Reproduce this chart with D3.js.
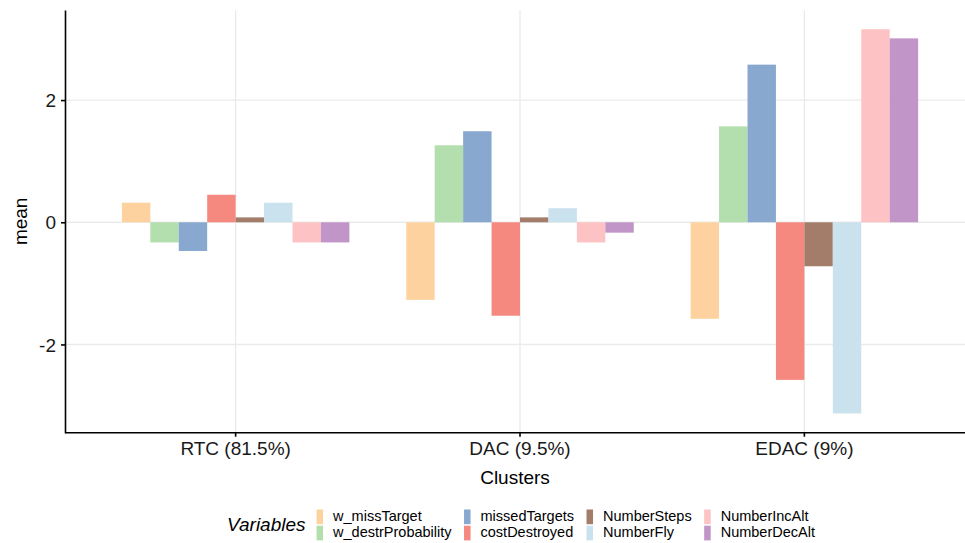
<!DOCTYPE html>
<html>
<head>
<meta charset="utf-8">
<script src="https://cdn.jsdelivr.net/npm/d3@7"></script>
<style>
  body { margin: 0; background: #fff; }
  text { font-family: "Liberation Sans", Arial, Helvetica, sans-serif; }
</style>
</head>
<body>
<script>
// Data
const clusters = ["RTC (81.5%)", "DAC (9.5%)", "EDAC (9%)"];
const variables = ["w_missTarget", "w_destrProbability", "missedTargets", "costDestroyed",
                   "NumberSteps", "NumberFly", "NumberIncAlt", "NumberDecAlt"];
const colors = ["#fdd29f", "#b3dfae", "#89a8d0", "#f5897f", "#a37d6a", "#cae1ee", "#fdc2c3", "#c195c7"];
// one array per cluster, in the order of variables
const rtcMeans  = [0.32, -0.33, -0.47, 0.45, 0.08, 0.32, -0.33, -0.33];
const dacMeans  = [-1.27, 1.26, 1.49, -1.53, 0.08, 0.23, -0.33, -0.17];
const edacMeans = [-1.58, 1.57, 2.58, -2.58, -0.72, -3.13, 3.16, 3.01];
const yTicks = [-2, 0, 2];

const means = [rtcMeans, dacMeans, edacMeans];
const rows = [];
clusters.forEach((c, i) => variables.forEach((v, j) => rows.push({cluster: c, variable: v, value: means[i][j]})));

makeChart(rows);

function makeChart(ds) {
    const W = 965, H = 543;
    const margin = {top: 10, left: 65};
    const panelBottom = 432.7, panelRight = 975;

    const svg = d3.select("body").append("svg")
        .attr("width", W)
        .attr("height", H);

    const x = d3.scaleBand().domain(clusters).range([margin.left, panelRight])
        .paddingInner(0.2).paddingOuter(0.2);
    const xSub = d3.scaleBand().domain(variables).range([0, x.bandwidth()]);
    const color = d3.scaleOrdinal().domain(variables).range(colors);

    // ggplot-like 5% expansion
    const ext = d3.extent(ds, d => d.value);
    const pad = (ext[1] - ext[0]) * 0.05;
    const y = d3.scaleLinear().domain([ext[0] - pad, ext[1] + pad]).range([panelBottom, margin.top]);

    // grid
    const grid = svg.append("g").attr("stroke", "#ebebeb").attr("stroke-width", 1.4);
    grid.selectAll("line.h").data(yTicks).join("line")
        .attr("x1", margin.left).attr("x2", panelRight)
        .attr("y1", d => y(d)).attr("y2", d => y(d));
    grid.selectAll("line.v").data(clusters).join("line")
        .attr("x1", d => x(d) + x.bandwidth() / 2).attr("x2", d => x(d) + x.bandwidth() / 2)
        .attr("y1", margin.top).attr("y2", panelBottom);

    // bars
    svg.append("g").selectAll("rect").data(ds).join("rect")
        .attr("x", d => x(d.cluster) + xSub(d.variable))
        .attr("width", xSub.bandwidth())
        .attr("y", d => y(Math.max(0, d.value)))
        .attr("height", d => Math.abs(y(d.value) - y(0)))
        .attr("fill", d => color(d.variable));

    // axes
    const xAxis = d3.axisBottom(x).tickSize(4).tickSizeOuter(0);
    const yAxis = d3.axisLeft(y).tickValues(yTicks).tickSize(4).tickSizeOuter(0).tickFormat(d => String(d));

    const gx = svg.append("g").attr("transform", `translate(0,${panelBottom})`).call(xAxis);
    const gy = svg.append("g").attr("transform", `translate(${margin.left},0)`).call(yAxis);
    [gx, gy].forEach(g => {
        g.select(".domain").attr("stroke", "#000").attr("stroke-width", 1.6);
        g.selectAll(".tick line").attr("stroke", "#000").attr("stroke-width", 1.6);
        g.selectAll(".tick text").attr("fill", "#1a1a1a").style("font-size", "19px")
            .style("font-family", '"Liberation Sans", Arial, sans-serif');
    });
    gx.select(".domain").attr("d", `M${margin.left},0H${W}`);
    gx.selectAll(".tick text").attr("dy", null).attr("y", 22.5);
    gy.selectAll(".tick text").attr("x", -9).attr("dy", "0.35em");

    // axis titles
    svg.append("text").attr("x", (margin.left + W) / 2).attr("y", 484)
        .attr("text-anchor", "middle").style("font-size", "19px").attr("fill", "#000")
        .text("Clusters");
    svg.append("text").attr("transform", `translate(27,${(margin.top + panelBottom) / 2}) rotate(-90)`)
        .attr("text-anchor", "middle").style("font-size", "19px").attr("fill", "#000")
        .text("mean");

    // legend, 2 rows filled by column
    const lg = svg.append("g");
    const title = lg.append("text").attr("x", 0).attr("y", 531)
        .style("font-size", "19px").style("font-style", "italic").attr("fill", "#000")
        .text("Variables");
    let cx = title.node().getComputedTextLength() + 11;
    const keyW = 6.5, keyH = 16.2, keyTop = 508;
    for (let c = 0; c < 4; c++) {
        let maxW = 0;
        for (let r = 0; r < 2; r++) {
            const v = variables[c * 2 + r];
            lg.append("rect").attr("x", cx).attr("y", keyTop + r * keyH + 1.5)
                .attr("width", keyW).attr("height", keyH - 1.5).attr("fill", color(v));
            const t = lg.append("text").attr("x", cx + 16.5).attr("y", keyTop + r * keyH + 13)
                .style("font-size", "14.5px").attr("fill", "#000").text(v);
            maxW = Math.max(maxW, t.node().getComputedTextLength());
        }
        cx += 16.5 + maxW + 12.5;
    }
    const legendW = cx - 12.5;
    lg.attr("transform", `translate(${521 - legendW / 2},0)`);
}
</script>
</body>
</html>
